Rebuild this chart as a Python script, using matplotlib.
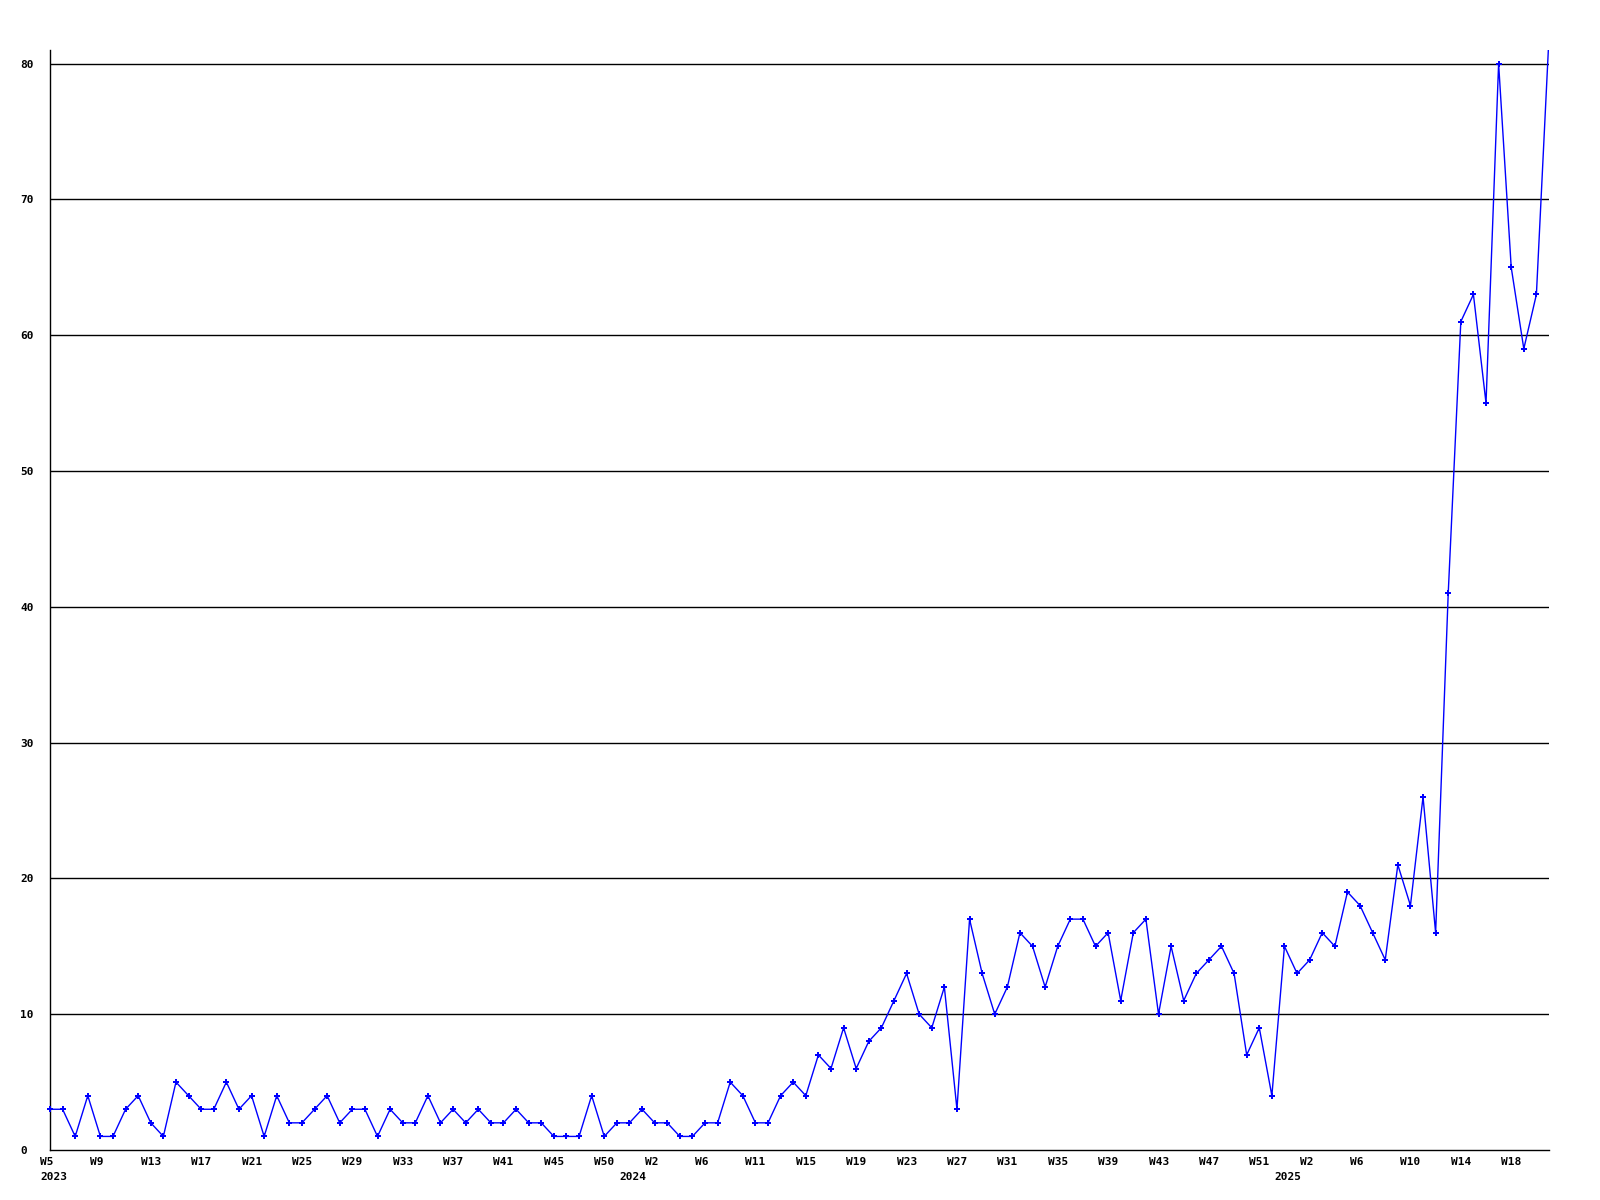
import matplotlib

matplotlib.use("Agg")

import matplotlib.pyplot as plt
import numpy as np

# weekly counts, 2023 W5 onwards
VALUES = [
    3, 3, 1, 4, 1, 1, 3, 4, 2, 1, 5, 4, 3, 3, 5, 3, 4, 1, 4, 2,
    2, 3, 4, 2, 3, 3, 1, 3, 2, 2, 4, 2, 3, 2, 3, 2, 2, 3, 2, 2,
    1, 1, 1, 4, 1, 2, 2, 3, 2, 2, 1, 1, 2, 2, 5, 4, 2, 2, 4, 5,
    4, 7, 6, 9, 6, 8, 9, 11, 13, 10, 9, 12, 3, 17, 13, 10, 12, 16, 15, 12,
    15, 17, 17, 15, 16, 11, 16, 17, 10, 15, 11, 13, 14, 15, 13, 7, 9, 4, 15, 13,
    14, 16, 15, 19, 18, 16, 14, 21, 18, 26, 16, 41, 61, 63, 55, 80, 65, 59, 63, 82,
]

WEEK_LABELS = [
    "W5", "W9", "W13", "W17", "W21", "W25", "W29", "W33", "W37", "W41",
    "W45", "W50", "W2", "W6", "W11", "W15", "W19", "W23", "W27", "W31",
    "W35", "W39", "W43", "W47", "W51", "W2", "W6", "W10", "W14", "W18",
]
LABEL_STEP = 4

YEAR_LABELS = ["2023", "2024", "2025"]
YEAR_STARTS = [0, 46, 98]

Y_TICKS = [0, 10, 20, 30, 40, 50, 60, 70, 80]
Y_TOP = 81

FONT = dict(family="DejaVu Sans Mono", fontsize=8, fontweight="bold", color="black")

fig = plt.figure(figsize=(16, 12), dpi=100)
ax = fig.add_axes([50 / 1600, 50 / 1200, 1499 / 1600, 1100 / 1200])

x = np.arange(len(VALUES))
y = np.array(VALUES, dtype=float)
ax.plot(x, y, color="#0000ff", lw=1.0, zorder=3)
inside = y <= Y_TOP
ax.plot(x[inside], y[inside], ls="none", color="#0000ff", marker="P",
        markersize=5, markeredgewidth=0, zorder=4, clip_on=False)

ax.set_xlim(0, len(VALUES) - 1)
ax.set_ylim(0, Y_TOP)

for v in Y_TICKS[1:]:
    ax.axhline(v, color="black", lw=1.0, zorder=1)

for side in ("top", "right"):
    ax.spines[side].set_visible(False)
for side in ("left", "bottom"):
    ax.spines[side].set_linewidth(1.0)
    ax.spines[side].set_color("black")

ax.set_xticks([])
ax.set_yticks(Y_TICKS)
ax.set_yticklabels([str(v) for v in Y_TICKS], **FONT)
ax.tick_params(axis="y", length=0, pad=21.6)
for lab in ax.get_yticklabels():
    lab.set_horizontalalignment("left")

for k, lab in enumerate(WEEK_LABELS):
    ax.annotate(lab, xy=(k * LABEL_STEP, 0), xycoords=("data", "axes fraction"),
                xytext=(-7.2, -8.6), textcoords="offset points",
                ha="left", va="center", annotation_clip=False, **FONT)

for lab, pos in zip(YEAR_LABELS, YEAR_STARTS):
    ax.annotate(lab, xy=(pos, 0), xycoords=("data", "axes fraction"),
                xytext=(-7.2, -19.4), textcoords="offset points",
                ha="left", va="center", annotation_clip=False, **FONT)

fig.savefig("out.png", dpi=100, facecolor="white")
